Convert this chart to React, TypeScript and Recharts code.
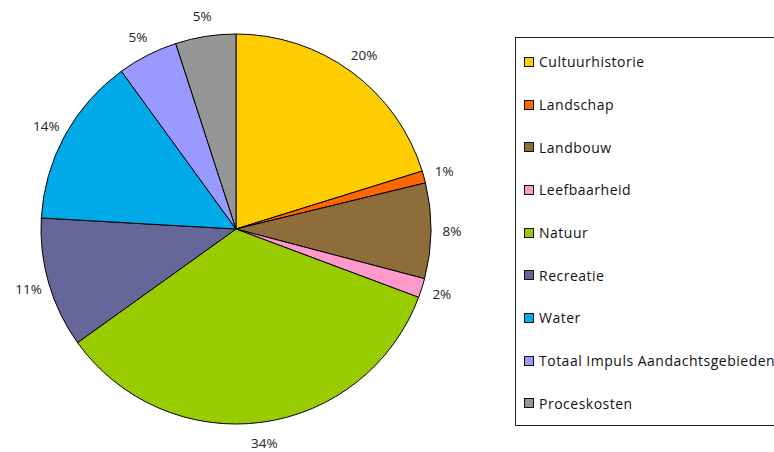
import { PieChart, Pie, Cell, Legend } from 'recharts';

const categorieen = [
  'Cultuurhistorie',
  'Landschap',
  'Landbouw',
  'Leefbaarheid',
  'Natuur',
  'Recreatie',
  'Water',
  'Totaal Impuls Aandachtsgebieden',
  'Proceskosten',
];
const waarden = [20.2, 1.0, 7.9, 1.6, 34.4, 10.8, 14.1, 5.0, 5.0];
const kleuren = ['#FFCC00', '#FF6600', '#8E6D3A', '#FF99CC', '#99CC00', '#666699', '#00AAE8', '#9999FF', '#969696'];

const dados = categorieen.map((naam, i) => ({ naam, waarde: waarden[i] }));

const RADIAN = Math.PI / 180;
const FONT = '"Open Sans", sans-serif';

function renderLabel(props: any) {
  const { cx, cy, midAngle, outerRadius, percent } = props;
  const r = outerRadius + 21;
  const x = cx + r * Math.cos(-midAngle * RADIAN);
  const y = cy + r * Math.sin(-midAngle * RADIAN);
  return (
    <text x={x} y={y} textAnchor="middle" dominantBaseline="central" fontSize={13.5} fontFamily={FONT} fill="#222">
      {`${Math.round(percent * 100)}%`}
    </text>
  );
}

function LegendaBox() {
  return (
    <div
      style={{
        boxSizing: 'border-box',
        width: 280,
        height: 389,
        border: '1px solid #222',
        background: '#fff',
        paddingTop: 2.5,
        fontFamily: FONT,
        fontSize: 14,
        letterSpacing: 0.5,
        color: '#111',
      }}
    >
      {categorieen.map((naam, i) => (
        <div key={naam} style={{ height: 42.7, display: 'flex', alignItems: 'center', paddingLeft: 8, whiteSpace: 'nowrap' }}>
          <span
            style={{
              display: 'inline-block',
              width: 8,
              height: 8,
              background: kleuren[i],
              border: '1px solid #111',
              marginRight: 5,
            }}
          />
          {naam}
        </div>
      ))}
    </div>
  );
}

export default function App() {
  return (
    <div style={{ position: 'absolute', left: 0, top: 0, width: 774, height: 452, overflow: 'hidden', background: '#fff' }}>
      <PieChart width={774} height={452} margin={{ top: 0, right: 0, bottom: 0, left: 0 }}>
        <Pie
          data={dados}
          dataKey="waarde"
          nameKey="naam"
          cx={236}
          cy={229}
          outerRadius={195}
          startAngle={90}
          endAngle={-270}
          stroke="#000"
          strokeWidth={1}
          label={renderLabel}
          labelLine={false}
          isAnimationActive={false}
        >
          {dados.map((d, i) => (
            <Cell key={d.naam} fill={kleuren[i]} />
          ))}
        </Pie>
        <Legend
          content={() => <LegendaBox />}
          wrapperStyle={{ position: 'absolute', left: 515, top: 37, width: 280, height: 389 }}
        />
      </PieChart>
    </div>
  );
}
